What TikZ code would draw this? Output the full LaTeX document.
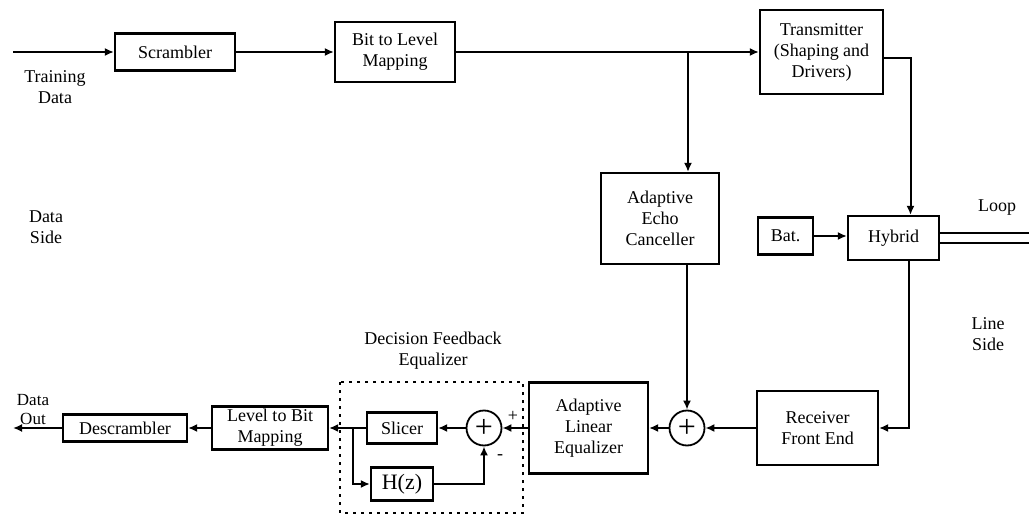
\documentclass[tikz,border=0pt]{standalone}
\usepackage{fontspec}
\setmainfont{Liberation Serif}
\usepackage{tikz}
\usetikzlibrary{positioning}
\usetikzlibrary{calc}
\usetikzlibrary{arrows.meta}

\tikzset{
    blk/.style={draw, line width=2.2pt, align=center, inner sep=0pt},
    sumnode/.style={draw, circle, line width=1.8pt, minimum size=35pt, inner sep=0pt, font=\fontsize{32}{32}\selectfont},
    sig/.style={line width=2pt},
    lbl/.style={align=center, inner sep=0pt}
}

\begin{document}
\begin{tikzpicture}[x=1pt, y=-1pt, >={Latex[length=9pt,width=8pt]}, font=\fontsize{18}{21}\selectfont]
    \useasboundingbox (0,0) rectangle (1029,514);

        % transmit path
        \node[blk, minimum width=120pt, minimum height=37pt] (scr) at (175,52) {Scrambler};
        \node[blk, minimum width=120pt, minimum height=60pt] (btl) at (395,52) {Bit to Level\\Mapping};
        \node[blk, minimum width=123pt, minimum height=84pt] (tx) at (821.5,52) {Transmitter\\(Shaping and\\Drivers)};
        \node[blk, minimum width=118pt, minimum height=91pt] (aec) at (660,218.5) {Adaptive\\Echo\\Canceller};
        \node[blk, minimum width=55pt, minimum height=37pt] (bat) at (785.5,236) {Bat.};
        \node[blk, minimum width=91pt, minimum height=44pt] (hyb) at (893.5,238) {Hybrid};

        % receive path
        \node[blk, minimum width=121pt, minimum height=74pt] (rfe) at (817.5,428) {Receiver\\Front End};
        \node[sumnode] (sa) at (687,428) {+};
        \node[blk, minimum width=119pt, minimum height=91pt] (ale) at (588.5,428) {Adaptive\\Linear\\Equalizer};
        \node[sumnode] (sb) at (484,428) {+};
        \node[blk, minimum width=70pt, minimum height=31pt] (slc) at (402,428) {Slicer};
        \node[blk, minimum width=62pt, minimum height=33pt, font=\fontsize{22}{22}\selectfont] (hz) at (402,484) {H(z)};
        \node[blk, minimum width=116pt, minimum height=43pt] (ltb) at (270,428) {Level to Bit\\Mapping};
        \node[blk, minimum width=124pt, minimum height=27pt] (dsc) at (125,428) {Descrambler};

        % labels
        \node[lbl] (tdata) at (55,87) {Training\\Data};
        \node[lbl] (dside) at (46,227) {Data\\Side};
        \node[lbl] (loop) at (997,208) {Loop};
        \node[lbl] (lside) at (988,334) {Line\\Side};
        \node[lbl, font=\fontsize{17}{19}\selectfont] (dout) at (33,410) {Data\\Out};
        \node[lbl] (dfe) at (433,351) {Decision Feedback\\Equalizer};
        \node[lbl, font=\fontsize{18}{18}\selectfont] (pl) at (513,416) {+};
        \node[lbl, font=\fontsize{18}{18}\selectfont] (mi) at (500,457) {-};

        \coordinate (tin) at (13,52);
        \coordinate (br) at (688,52);
        \coordinate (fb) at (353,428);
        \coordinate (dend) at (13,428);
        \coordinate (loopa) at (1029,233);
        \coordinate (loopb) at (1029,243);

        \draw[dash pattern=on 3pt off 5pt, line width=2.4pt] (340,382) rectangle (523,513);

        \draw[sig, ->] (tin) -- (scr.west);
        \draw[sig, ->] (scr.east) -- (btl.west);
        \draw[sig, ->] (btl.east) -- (tx.west);
        \draw[sig, ->] (br) -- (br |- aec.north);
        \draw[sig, ->] ([yshift=-6pt]tx.east) -| ([xshift=17pt]hyb.north);
        \draw[sig, ->] (bat.east) -- (bat -| hyb.west);
        \draw[sig] (hyb.east |- loopa) -- (loopa);
        \draw[sig] (hyb.east |- loopb) -- (loopb);
        \draw[sig, ->] ([xshift=15pt]hyb.south) |- (rfe.east);
        \draw[sig, ->] (aec.south -| sa) -- (sa.north);
        \draw[sig, ->] (rfe.west) -- (sa.east);
        \draw[sig, ->] (sa.west) -- (ale.east);
        \draw[sig, ->] (ale.west) -- (sb.east);
        \draw[sig, ->] (sb.west) -- (slc.east);
        \draw[sig, ->] (slc.west) -- (ltb.east);
        \draw[sig, ->] (fb) |- (hz.west);
        \draw[sig, ->] (hz.east) -| (sb.south);
        \draw[sig, ->] (ltb.west) -- (dsc.east);
        \draw[sig, ->] (dsc.west) -- (dend);

\end{tikzpicture}
\end{document}
